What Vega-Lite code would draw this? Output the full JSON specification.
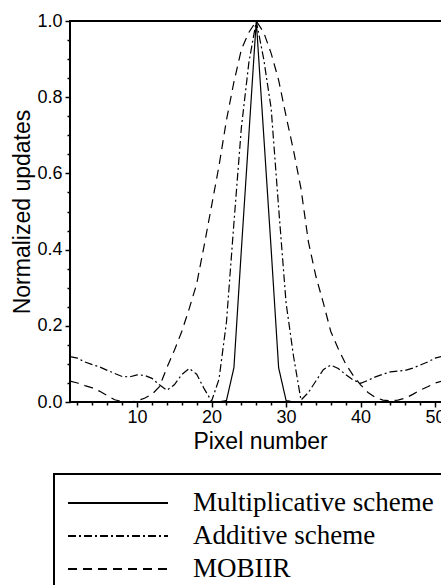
{
  "$schema": "https://vega.github.io/schema/vega-lite/v6.json",
  "width": 380,
  "height": 381,
  "autosize": {"type": "none"},
  "padding": {"left": 70, "top": 21, "right": 0, "bottom": 183},
  "background": "white",
  "config": {
    "view": {"stroke": "black", "strokeWidth": 2},
    "axis": {
      "domain": false,
      "ticks": true,
      "tickColor": "black",
      "tickWidth": 1.5,
      "grid": false,
      "labelFont": "Liberation Sans",
      "labelFontSize": 18,
      "labelColor": "black",
      "titleFont": "Liberation Sans",
      "titleFontSize": 23,
      "titleFontWeight": "normal",
      "titleColor": "black"
    },
    "legend": {"strokeWidth": 2}
  },
  "data": {
    "values": [
      {"x": 1, "Multiplicative scheme": 0, "Additive scheme": 0.119, "MOBIIR": 0.055},
      {"x": 2, "Multiplicative scheme": 0, "Additive scheme": 0.115, "MOBIIR": 0.05},
      {"x": 3, "Multiplicative scheme": 0, "Additive scheme": 0.105, "MOBIIR": 0.043},
      {"x": 4, "Multiplicative scheme": 0, "Additive scheme": 0.098, "MOBIIR": 0.037},
      {"x": 5, "Multiplicative scheme": 0, "Additive scheme": 0.092, "MOBIIR": 0.028},
      {"x": 6, "Multiplicative scheme": 0, "Additive scheme": 0.083, "MOBIIR": 0.017},
      {"x": 7, "Multiplicative scheme": 0, "Additive scheme": 0.075, "MOBIIR": 0.006},
      {"x": 8, "Multiplicative scheme": 0, "Additive scheme": 0.067, "MOBIIR": 0.001},
      {"x": 9, "Multiplicative scheme": 0, "Additive scheme": 0.066, "MOBIIR": 0.0},
      {"x": 10, "Multiplicative scheme": 0, "Additive scheme": 0.071, "MOBIIR": 0.003},
      {"x": 11, "Multiplicative scheme": 0, "Additive scheme": 0.07, "MOBIIR": 0.01},
      {"x": 12, "Multiplicative scheme": 0, "Additive scheme": 0.062, "MOBIIR": 0.02},
      {"x": 13, "Multiplicative scheme": 0, "Additive scheme": 0.045, "MOBIIR": 0.04},
      {"x": 14, "Multiplicative scheme": 0, "Additive scheme": 0.031, "MOBIIR": 0.09},
      {"x": 15, "Multiplicative scheme": 0, "Additive scheme": 0.045, "MOBIIR": 0.135},
      {"x": 16, "Multiplicative scheme": 0, "Additive scheme": 0.072, "MOBIIR": 0.185},
      {"x": 17, "Multiplicative scheme": 0, "Additive scheme": 0.088, "MOBIIR": 0.245},
      {"x": 18, "Multiplicative scheme": 0, "Additive scheme": 0.073, "MOBIIR": 0.31},
      {"x": 19, "Multiplicative scheme": 0, "Additive scheme": 0.035, "MOBIIR": 0.41},
      {"x": 20, "Multiplicative scheme": 0, "Additive scheme": 0.002, "MOBIIR": 0.515},
      {"x": 21, "Multiplicative scheme": 0, "Additive scheme": 0.06, "MOBIIR": 0.62},
      {"x": 22, "Multiplicative scheme": 0.004, "Additive scheme": 0.21, "MOBIIR": 0.74},
      {"x": 23, "Multiplicative scheme": 0.09, "Additive scheme": 0.47, "MOBIIR": 0.84},
      {"x": 24, "Multiplicative scheme": 0.4, "Additive scheme": 0.72, "MOBIIR": 0.925},
      {"x": 25, "Multiplicative scheme": 0.7, "Additive scheme": 0.89, "MOBIIR": 0.97},
      {"x": 26, "Multiplicative scheme": 1.0, "Additive scheme": 1.0, "MOBIIR": 1.0},
      {"x": 27, "Multiplicative scheme": 0.7, "Additive scheme": 0.9, "MOBIIR": 0.97},
      {"x": 28, "Multiplicative scheme": 0.4, "Additive scheme": 0.77, "MOBIIR": 0.915},
      {"x": 29, "Multiplicative scheme": 0.09, "Additive scheme": 0.51, "MOBIIR": 0.845},
      {"x": 30, "Multiplicative scheme": 0.004, "Additive scheme": 0.26, "MOBIIR": 0.75},
      {"x": 31, "Multiplicative scheme": 0, "Additive scheme": 0.12, "MOBIIR": 0.66},
      {"x": 32, "Multiplicative scheme": 0, "Additive scheme": 0.005, "MOBIIR": 0.56},
      {"x": 33, "Multiplicative scheme": 0, "Additive scheme": 0.025, "MOBIIR": 0.42},
      {"x": 34, "Multiplicative scheme": 0, "Additive scheme": 0.055, "MOBIIR": 0.33},
      {"x": 35, "Multiplicative scheme": 0, "Additive scheme": 0.085, "MOBIIR": 0.26},
      {"x": 36, "Multiplicative scheme": 0, "Additive scheme": 0.097, "MOBIIR": 0.185},
      {"x": 37, "Multiplicative scheme": 0, "Additive scheme": 0.088, "MOBIIR": 0.14},
      {"x": 38, "Multiplicative scheme": 0, "Additive scheme": 0.072, "MOBIIR": 0.1},
      {"x": 39, "Multiplicative scheme": 0, "Additive scheme": 0.058, "MOBIIR": 0.07},
      {"x": 40, "Multiplicative scheme": 0, "Additive scheme": 0.049, "MOBIIR": 0.045},
      {"x": 41, "Multiplicative scheme": 0, "Additive scheme": 0.057, "MOBIIR": 0.025},
      {"x": 42, "Multiplicative scheme": 0, "Additive scheme": 0.066, "MOBIIR": 0.012},
      {"x": 43, "Multiplicative scheme": 0, "Additive scheme": 0.073, "MOBIIR": 0.005},
      {"x": 44, "Multiplicative scheme": 0, "Additive scheme": 0.079, "MOBIIR": 0.003},
      {"x": 45, "Multiplicative scheme": 0, "Additive scheme": 0.081, "MOBIIR": 0.005},
      {"x": 46, "Multiplicative scheme": 0, "Additive scheme": 0.083, "MOBIIR": 0.01},
      {"x": 47, "Multiplicative scheme": 0, "Additive scheme": 0.089, "MOBIIR": 0.02},
      {"x": 48, "Multiplicative scheme": 0, "Additive scheme": 0.097, "MOBIIR": 0.031},
      {"x": 49, "Multiplicative scheme": 0, "Additive scheme": 0.105, "MOBIIR": 0.04},
      {"x": 50, "Multiplicative scheme": 0, "Additive scheme": 0.115, "MOBIIR": 0.05},
      {"x": 51, "Multiplicative scheme": 0, "Additive scheme": 0.12, "MOBIIR": 0.055}
    ]
  },
  "transform": [
    {"fold": ["Multiplicative scheme", "Additive scheme", "MOBIIR"], "as": ["series", "y"]}
  ],
  "layer": [
    {
      "mark": {"type": "line", "stroke": "black", "strokeWidth": 1.2, "clip": true},
      "encoding": {
        "x": {
          "field": "x",
          "type": "quantitative",
          "scale": {"domain": [1, 52], "nice": false, "zero": false},
          "axis": {
            "orient": "bottom",
            "title": "Pixel number",
            "values": [10, 20, 30, 40, 50],
            "tickSize": 5,
            "labelPadding": 1,
            "titlePadding": 4
          }
        },
        "y": {
          "field": "y",
          "type": "quantitative",
          "scale": {"domain": [0, 1], "nice": false},
          "axis": {
            "orient": "left",
            "title": "Normalized updates",
            "values": [0, 0.2, 0.4, 0.6, 0.8, 1.0],
            "format": ".1f",
            "tickSize": 5,
            "labelPadding": 3,
            "titlePadding": 2
          }
        },
        "strokeDash": {
          "field": "series",
          "type": "nominal",
          "scale": {
            "domain": ["Multiplicative scheme", "Additive scheme", "MOBIIR"],
            "range": [[1, 0], [8, 3, 2, 3], [9, 6]]
          },
          "legend": {
            "title": null,
            "orient": "none",
            "legendX": -16,
            "legendY": 453,
            "strokeColor": "black",
            "fillColor": "white",
            "padding": 13,
            "symbolType": "stroke",
            "symbolSize": 10000,
            "symbolStrokeWidth": 1.8,
            "symbolStrokeColor": "black",
            "clipHeight": 32,
            "rowPadding": 1,
            "labelFont": "Liberation Serif",
            "labelFontSize": 27,
            "labelColor": "black",
            "labelOffset": 24,
            "labelLimit": 400
          }
        }
      }
    },
    {
      "mark": {"type": "point", "opacity": 0},
      "encoding": {
        "x": {
          "field": "x",
          "type": "quantitative",
          "axis": {
            "orient": "bottom",
            "title": null,
            "labels": false,
            "values": [2, 4, 6, 8, 12, 14, 16, 18, 22, 24, 26, 28, 32, 34, 36, 38, 42, 44, 46, 48, 52],
            "tickSize": 3
          }
        },
        "y": {
          "field": "y",
          "type": "quantitative",
          "axis": {
            "orient": "left",
            "title": null,
            "labels": false,
            "values": [0.05, 0.1, 0.15, 0.25, 0.3, 0.35, 0.45, 0.5, 0.55, 0.65, 0.7, 0.75, 0.85, 0.9, 0.95],
            "tickSize": 3
          }
        }
      }
    }
  ],
  "resolve": {"axis": {"x": "independent", "y": "independent"}}
}
